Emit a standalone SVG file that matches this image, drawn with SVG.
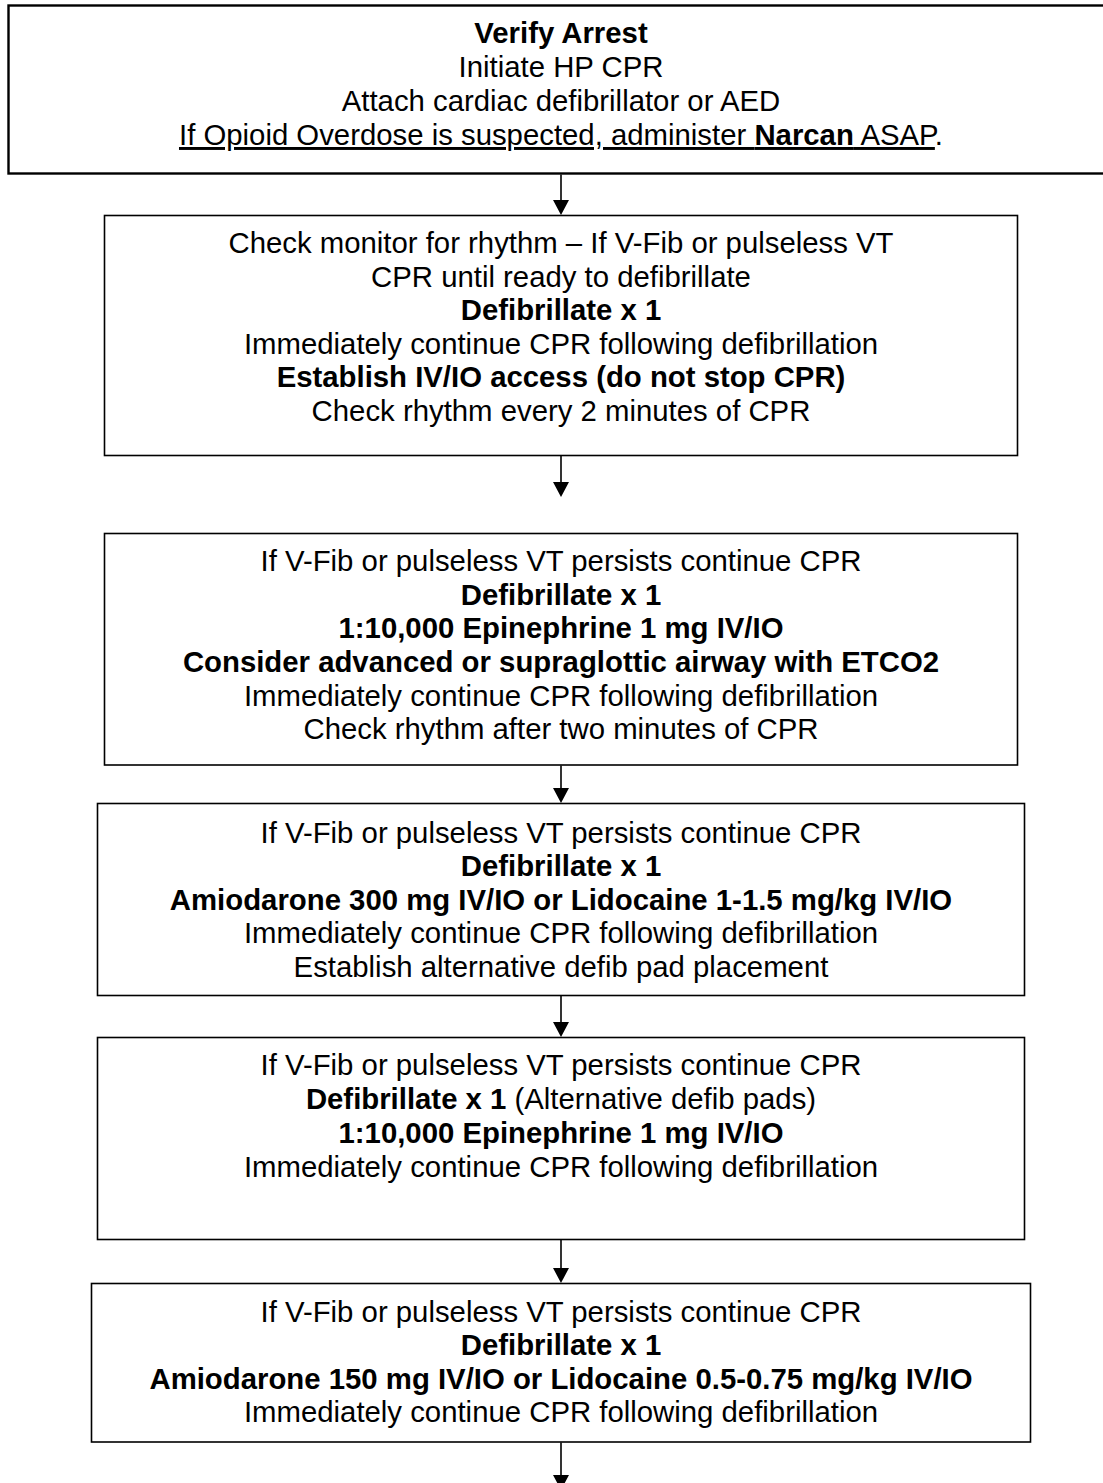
<svg xmlns="http://www.w3.org/2000/svg" width="1103" height="1483" viewBox="0 0 1103 1483">
  <style>
    .box { fill: #ffffff; stroke: #000000; stroke-width: 1.6; }
    .box1 { fill: #ffffff; stroke: #000000; stroke-width: 2.4; }
    .t { font-family: "Liberation Sans", Arial, sans-serif; font-size: 29.33px; fill: #000000; text-anchor: middle; }
    .b { font-weight: bold; }
    .u { text-decoration: underline; text-decoration-skip-ink: none; text-decoration-thickness: 2px; }
    .conn { stroke: #000000; stroke-width: 1.6; fill: none; marker-end: url(#arrow); }
  </style>
  <defs>
    <marker id="arrow" markerUnits="userSpaceOnUse" markerWidth="16" markerHeight="16" refX="12" refY="8" orient="auto">
      <path d="M0,0 L15,8 L0,16 Z" fill="#000000"/>
    </marker>
  </defs>
  <rect x="0" y="0" width="1103" height="1483" fill="#ffffff"/>

  <g id="node1">
    <rect class="box1" x="8.5" y="5.5" width="1105" height="168"/>
    <text class="t" x="561" y="43"><tspan class="b">Verify Arrest</tspan></text>
    <text class="t" x="561" y="77">Initiate HP CPR</text>
    <text class="t" x="561" y="111">Attach cardiac defibrillator or AED</text>
    <text class="t" x="561" y="145"><tspan class="u">If Opioid Overdose is suspected, administer <tspan class="b">Narcan</tspan> ASAP</tspan>.</text>
  </g>

  <g id="node2">
    <rect class="box" x="104.5" y="215.5" width="913" height="240"/>
    <text class="t" x="561" y="253">Check monitor for rhythm – If V-Fib or pulseless VT</text>
    <text class="t" x="561" y="287">CPR until ready to defibrillate</text>
    <text class="t b" x="561" y="320">Defibrillate x 1</text>
    <text class="t" x="561" y="354">Immediately continue CPR following defibrillation</text>
    <text class="t b" x="561" y="387">Establish IV/IO access (do not stop CPR)</text>
    <text class="t" x="561" y="421">Check rhythm every 2 minutes of CPR</text>
  </g>

  <g id="node3">
    <rect class="box" x="104.5" y="533.5" width="913" height="231.5"/>
    <text class="t" x="561" y="571">If V-Fib or pulseless VT persists continue CPR</text>
    <text class="t b" x="561" y="604.5">Defibrillate x 1</text>
    <text class="t b" x="561" y="638">1:10,000 Epinephrine 1 mg IV/IO</text>
    <text class="t b" x="561" y="672">Consider advanced or supraglottic airway with ETCO2</text>
    <text class="t" x="561" y="705.5">Immediately continue CPR following defibrillation</text>
    <text class="t" x="561" y="739">Check rhythm after two minutes of CPR</text>
  </g>

  <g id="node4">
    <rect class="box" x="97.5" y="803.5" width="927" height="192"/>
    <text class="t" x="561" y="842.5">If V-Fib or pulseless VT persists continue CPR</text>
    <text class="t b" x="561" y="876">Defibrillate x 1</text>
    <text class="t b" x="561" y="909.5">Amiodarone 300 mg IV/IO or Lidocaine 1-1.5 mg/kg IV/IO</text>
    <text class="t" x="561" y="943">Immediately continue CPR following defibrillation</text>
    <text class="t" x="561" y="976.5">Establish alternative defib pad placement</text>
  </g>

  <g id="node5">
    <rect class="box" x="97.5" y="1037.5" width="927" height="202"/>
    <text class="t" x="561" y="1075">If V-Fib or pulseless VT persists continue CPR</text>
    <text class="t" x="561" y="1109"><tspan class="b">Defibrillate x 1</tspan> (Alternative defib pads)</text>
    <text class="t b" x="561" y="1142.5">1:10,000 Epinephrine 1 mg IV/IO</text>
    <text class="t" x="561" y="1176.5">Immediately continue CPR following defibrillation</text>
  </g>

  <g id="node6">
    <rect class="box" x="91.5" y="1283.5" width="939" height="158.5"/>
    <text class="t" x="561" y="1321.5">If V-Fib or pulseless VT persists continue CPR</text>
    <text class="t b" x="561" y="1355">Defibrillate x 1</text>
    <text class="t b" x="561" y="1388.5">Amiodarone 150 mg IV/IO or Lidocaine 0.5-0.75 mg/kg IV/IO</text>
    <text class="t" x="561" y="1422">Immediately continue CPR following defibrillation</text>
  </g>

  <g id="connectors">
    <line class="conn" x1="561" y1="174.5" x2="561" y2="212"/>
    <line class="conn" x1="561" y1="456" x2="561" y2="494"/>
    <line class="conn" x1="561" y1="765.5" x2="561" y2="800"/>
    <line class="conn" x1="561" y1="996" x2="561" y2="1034"/>
    <line class="conn" x1="561" y1="1240" x2="561" y2="1280"/>
    <line class="conn" x1="561" y1="1442.5" x2="561" y2="1487"/>
  </g>
</svg>
